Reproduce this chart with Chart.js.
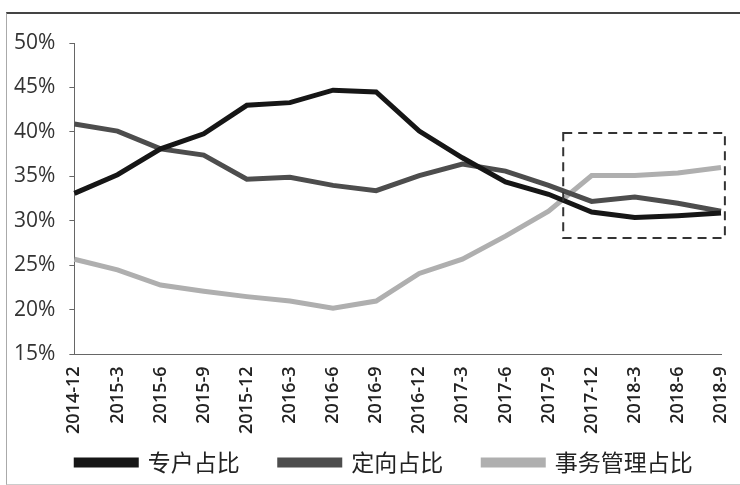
<!DOCTYPE html>
<html lang="zh">
<head>
  <meta charset="UTF-8">
  <title>专户 / 定向 / 事务管理 占比</title>
  <script src="https://cdn.jsdelivr.net/npm/chart.js"></script>
  <style>
    body { margin: 0; background: #fff; overflow: hidden; }
    .wrap { width: 740px; height: 485px; position: relative; }
    /* 扫描件的外框 */
    .frame {
      position: absolute; left: 6px; top: 12px; width: 760px; height: 470px;
      border-top: 2px solid #444; border-left: 1px solid #aaa; border-bottom: 1px solid #ccc;
      pointer-events: none;
    }
  </style>
</head>
<body>
  <div class="wrap">
    <canvas id="ratioChart" width="740" height="485"></canvas>
    <div class="frame"></div>
  </div>

  <script>
    // 数据
    const quarters = ['2014-12', '2015-3', '2015-6', '2015-9', '2015-12', '2016-3', '2016-6', '2016-9',
      '2016-12', '2017-3', '2017-6', '2017-9', '2017-12', '2018-3', '2018-6', '2018-9'];
    const zhuanhu = [33.1, 35.2, 38.1, 39.8, 43.0, 43.3, 44.7, 44.5, 40.1, 37.1, 34.4, 33.0, 31.0, 30.4, 30.6, 30.9];
    const dingxiang = [40.9, 40.1, 38.1, 37.4, 34.7, 34.9, 34.0, 33.4, 35.1, 36.4, 35.6, 34.0, 32.2, 32.7, 32.0, 31.1];
    const shiwu = [25.7, 24.5, 22.8, 22.1, 21.5, 21.0, 20.2, 21.0, 24.1, 25.7, 28.3, 31.1, 35.1, 35.1, 35.4, 36.0];
    const seriesNames = ['专户占比', '定向占比', '事务管理占比'];
    const yTicks = [15, 20, 25, 30, 35, 40, 45, 50];

    // 虚线框 (x 为类目序号 0..15, y 为百分比)
    const boxX = [11.34, 15.09];
    const boxY = [28.1, 39.9];

    const dashedBox = {
      id: 'dashedBox',
      afterDatasetsDraw(chart) {
        const { ctx, scales: { x, y } } = chart;
        const x1 = x.getPixelForValue(boxX[0]), x2 = x.getPixelForValue(boxX[1]);
        const y1 = y.getPixelForValue(boxY[1]), y2 = y.getPixelForValue(boxY[0]);
        ctx.save();
        ctx.strokeStyle = '#333';
        ctx.lineWidth = 2;
        ctx.setLineDash([9, 6]);
        ctx.strokeRect(x1, y1, x2 - x1, y2 - y1);
        ctx.restore();
      }
    };

    // 图例：条目间距大，但整体高度要小 -> 固定高度并在绘制时上移
    const LEGEND_H = 45;
    const legendTweak = {
      id: 'legendTweak',
      beforeInit(chart) {
        const lg = chart.legend;
        const fit = lg.fit;
        lg.fit = function () { fit.call(this); this.height = LEGEND_H; };
        const draw = lg.draw;
        lg.draw = function () {
          const t = this.top, l = this.left, r = this.right;
          const pad = this.options.labels.padding;
          this.top = t - pad + 11;
          this.left = l + 24; this.right = r + 24;
          draw.call(this);
          this.top = t; this.left = l; this.right = r;
        };
      }
    };

    const colors = ['#161616', '#4d4d4d', '#afafaf'];

    new Chart(document.getElementById('ratioChart'), {
      type: 'line',
      data: {
        labels: quarters,
        datasets: [zhuanhu, dingxiang, shiwu].map((d, i) => ({
          label: seriesNames[i],
          data: d,
          borderColor: colors[i],
          backgroundColor: colors[i],
          borderWidth: 5,
          pointRadius: 0,
          tension: 0,
          fill: false
        }))
      },
      options: {
        responsive: false,
        animation: false,
        layout: { padding: { top: 43, left: 0, right: 19, bottom: 0 } },
        plugins: {
          legend: {
            position: 'bottom',
            labels: {
              boxWidth: 60,
              boxHeight: 5,
              padding: 40,
              color: '#222',
              font: { family: '"Noto Sans CJK SC", sans-serif', size: 23 }
            }
          },
          tooltip: { enabled: false }
        },
        scales: {
          x: {
            offset: false,
            afterFit(scale) { scale.paddingRight = 0; },
            grid: { display: false, drawOnChartArea: false, drawTicks: true, tickLength: 6, color: '#666' },
            border: { color: '#666', width: 1 },
            ticks: {
              minRotation: 90, maxRotation: 90, autoSkip: false,
              color: '#222',
              padding: 6,
              font: { family: '"Open Sans", sans-serif', size: 18, weight: '600' }
            }
          },
          y: {
            min: 15, max: 50,
            afterBuildTicks(axis) { axis.ticks = yTicks.map(v => ({ value: v })); },
            grid: { drawOnChartArea: false, drawTicks: true, tickLength: 5, color: '#666' },
            border: { color: '#666', width: 1 },
            ticks: {
              callback: v => v + '%',
              color: '#333',
              padding: 14,
              font: { family: '"Open Sans", sans-serif', size: 21 }
            }
          }
        }
      },
      plugins: [dashedBox, legendTweak]
    });
  </script>
</body>
</html>
